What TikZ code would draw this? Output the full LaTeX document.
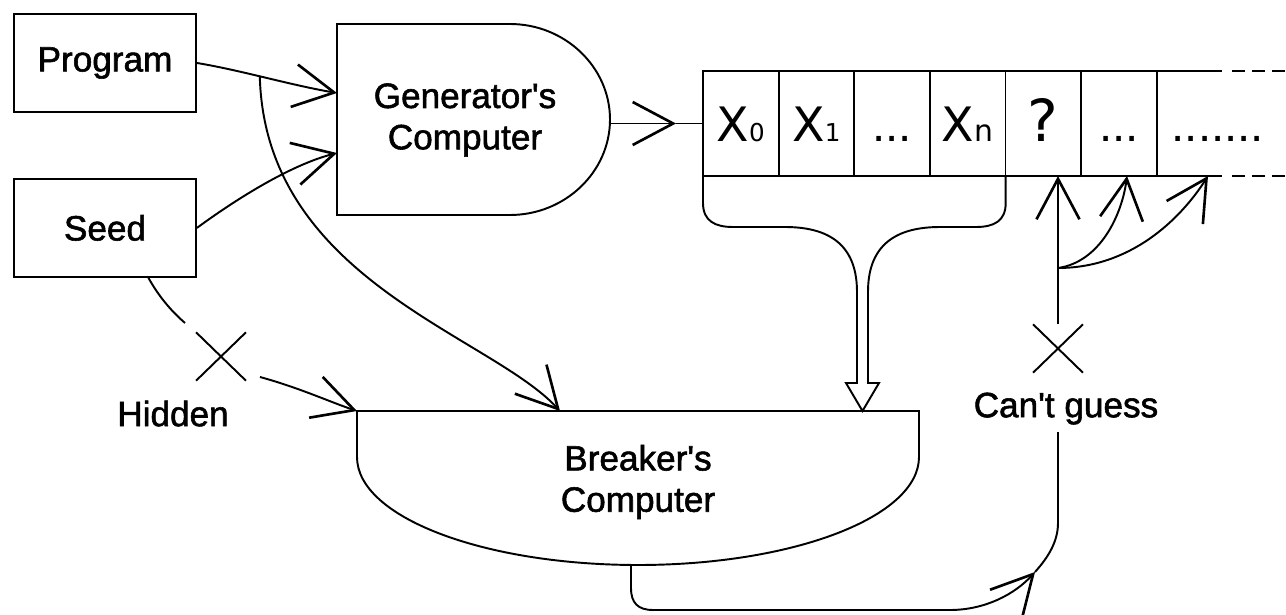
\documentclass[tikz,border=0pt]{standalone}
\usepackage{fontspec}
\setmainfont{Liberation Sans}
\newfontfamily\lblfont{Liberation Sans}[FakeBold=1.6]
\newfontfamily\tapefont{DejaVu Sans}
\usetikzlibrary{arrows.meta,positioning,shapes.misc}

\newcommand\idx[1]{{\fontsize{14}{14}\selectfont#1}}
\newcommand\dotsfill[1]{{\rmfamily\fontsize{27}{27}\selectfont#1}}

\begin{document}
\begin{tikzpicture}[
  x=0.02cm, y=-0.02cm,
  line width=1.1pt,
  font=\lblfont\fontsize{20}{23.5}\selectfont,
  box/.style={draw, minimum width=3.64cm, minimum height=1.96cm, inner sep=0pt},
  lbl/.style={align=center, inner sep=0pt},
  cell/.style={draw, minimum width=1.513cm, minimum height=2.1cm, inner sep=0pt, outer sep=0pt,
    text height=0.74cm, text depth=0pt, font=\tapefont\fontsize{27}{27}\selectfont},
  nope/.style={draw, cross out, minimum width=0.96cm, minimum height=0.93cm, inner sep=0pt},
  arr/.style={-{Straight Barb[length=0.81cm, width=0.86cm, line width=1.5pt]}},
  ext/.style={dash pattern=on 0.26cm off 0.14cm}
]
  \useasboundingbox (0,0) rectangle (1286,615);

  \node[box] (prog) at (105,63) {Program};
  \node[box, below=1.3cm of prog] (seed) {Seed};

  \node[lbl] (gen) at (465,120) {Generator's\\Computer};
  \draw (337,24) -- (510,24) .. controls (565,24) and (610,67) .. (610,119.5)
    .. controls (610,172) and (565,215) .. (510,215) -- (337,215) -- cycle;
  \coordinate (gen-in1) at (337,93);
  \coordinate (gen-in2) at (337,153);
  \coordinate (gen-out) at (610,123.5);
  \coordinate (gen-tip) at (676,123.5);

  \node[cell] (c0) at (740.8,123.5) {X\idx{0}};
  \node[cell, right=0pt of c0] (c1) {X\idx{1}};
  \node[cell, right=0pt of c1] (c2) {\dotsfill{...}};
  \node[cell, right=0pt of c2] (c3) {X{\fontsize{17}{17}\selectfont n}};
  \node[cell, right=0pt of c3] (c4) {\fontsize{33}{33}\selectfont ?};
  \node[cell, right=0pt of c4] (c5) {\dotsfill{...}};
  \node[cell, draw=none, minimum width=0pt, right=0.3cm of c5] (c6) {\dotsfill{.......}};
  \draw (c5.north east) -- ++(65,0) coordinate (top-end);
  \draw (c5.south east) -- ++(65,0) coordinate (bot-end);
  \draw[ext] (top-end) ++(10,0) -- ++(56,0);
  \draw[ext] (bot-end) ++(10,0) -- ++(56,0);

  \node[lbl] (brk) at (638,482) {Breaker's\\Computer};
  \draw (357,411) -- (919,411) -- (919,457) .. controls (919,517) and (793,565) .. (638,565)
    .. controls (483,565) and (357,517) .. (357,457) -- cycle;
  \coordinate (brk-in1) at (357,411);
  \coordinate (brk-in2) at (560,411);
  \coordinate (brk-in3) at (862.5,411);
  \coordinate (brk-out) at (631,565);

  \draw[arr] (prog.east) .. controls (240,70) and (290,85) .. coordinate[pos=0.46] (split) (gen-in1);
  \draw[arr] (seed.east) .. controls (235,200) and (290,165) .. (gen-in2);
  \draw[arr] (gen-out) -- (gen-tip);
  \draw (gen-tip) -- (c0.west);
  \draw[arr] (split) .. controls (265,280) and (490,335) .. (brk-in2);

  \node[nope] (hidx) at (221,356.5) {};
  \node[lbl, below=0.38cm of hidx, xshift=-0.96cm] (hid) {Hidden};
  \coordinate (hid-a) at (185,323);
  \coordinate (hid-b) at (260,377);
  \draw (seed.-49) .. controls (158,295) and (170,310) .. (hid-a);
  \draw[arr] (hid-b) .. controls (300,388) and (330,402) .. (brk-in1);

  \draw (c0.south west) -- (703,203) .. controls (703,221) and (715,227) .. (733,227) -- (785,227)
    .. controls (835,227) and (857,250) .. (857,292) -- (857,383) -- (846,383) -- (brk-in3)
    -- (879,383) -- (868,383) -- (868,292) .. controls (868,250) and (890,227) .. (940,227)
    -- (976,227) .. controls (994,227) and (1005.7,221) .. (1005.7,203) -- (c3.south east);

  \node[nope] (cgx) at (1058,348.5) {};
  \node[lbl, below=0.38cm of cgx, xshift=0.16cm] (cg) {Can't guess};
  \coordinate (fork) at (1058,268);
  \coordinate (nx1) at (1127,176);
  \coordinate (nx2) at (1208,176);
  \coordinate (cg-tip) at (1035,572);
  \coordinate (cg-bot) at (1058,432);
  \draw[arr] (cgx.north) -- (cgx.north |- c4.south);
  \draw[arr] (fork) .. controls (1100,262) and (1122,215) .. (nx1);
  \draw[arr] (fork) .. controls (1130,268) and (1180,220) .. (nx2);
  \draw[arr] (brk-out) -- (631,588) .. controls (631,603) and (638,610) .. (653,610) -- (950,610)
    .. controls (984.6,610) and (1014.7,594.5) .. (cg-tip);
  \draw (cg-tip) .. controls (1048.4,557.1) and (1058,541.4) .. (1058,523) -- (cg-bot);
\end{tikzpicture}
\end{document}
